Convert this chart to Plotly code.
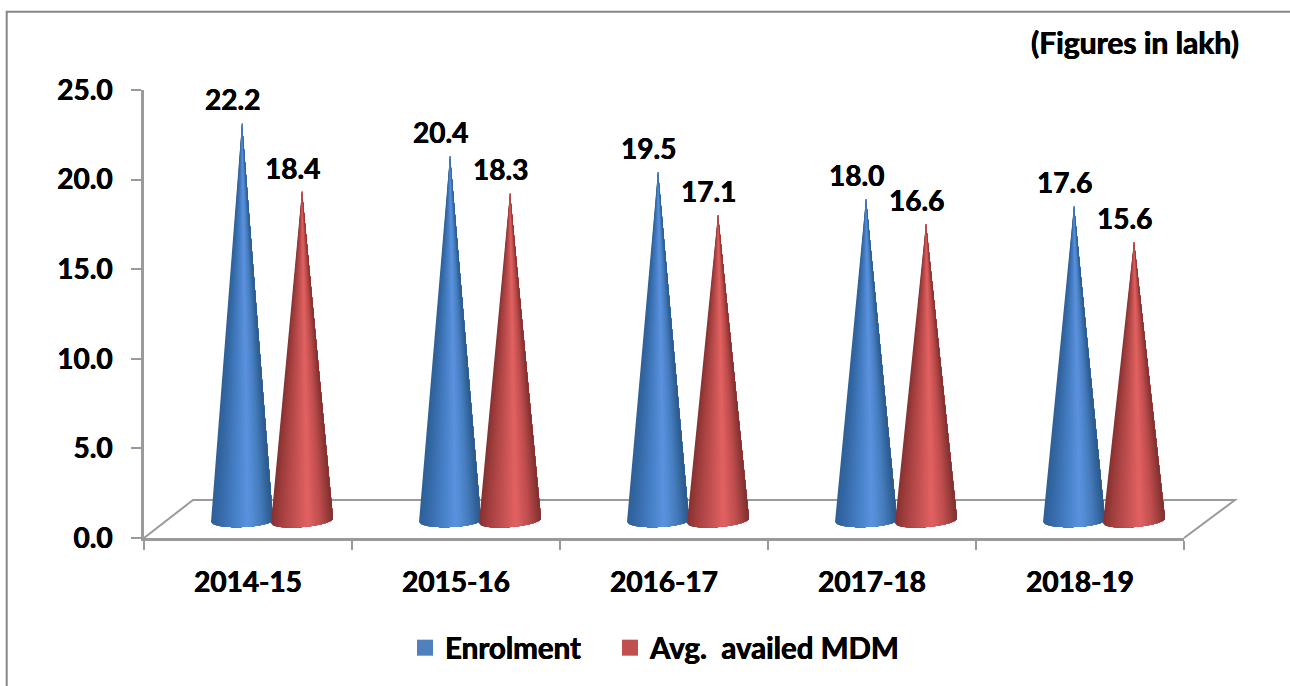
import numpy as np
import plotly.graph_objects as go

categories = ["2014-15", "2015-16", "2016-17", "2017-18", "2018-19"]
enrolment = [22.2, 20.4, 19.5, 18.0, 17.6]
avg_mdm = [18.4, 18.3, 17.1, 16.6, 15.6]
series_names = ["Enrolment", "Avg.\u00a0 availed MDM"]
y_ticks = [0, 5, 10, 15, 20, 25]

W, H = 1290, 686
L, R, T, B = 144, 1184, 90, 538
PX_X = R - L
PX_Y = B - T
FONT = "Lato"
GREY = "#9a9a9a"
HEAVY = "0.35px 0 0 #000, -0.35px 0 0 #000"

px_per_cat = PX_X / len(categories)
px_per_val = PX_Y / 25.0
FLOOR = 17.2 / px_per_val          # base of the cones sits above the front edge
HALF_W = 31 / px_per_cat
RY = 6.3 / px_per_val


def bold(size):
    return dict(family=FONT, size=size, color="black", weight="bold", shadow=HEAVY)


def lerp_stops(stops, t):
    xs = [s[0] for s in stops]
    cols = np.array([s[1] for s in stops], float)
    return [float(np.interp(t, xs, cols[:, i])) for i in range(3)]


blue_stops = [(0, (46, 96, 150)), (.12, (52, 104, 165)), (.35, (68, 125, 195)), (.6, (92, 146, 222)),
              (.8, (70, 125, 190)), (.93, (50, 100, 155)), (1, (44, 88, 135))]
red_stops = [(0, (132, 50, 50)), (.12, (158, 60, 60)), (.35, (192, 78, 78)), (.6, (226, 98, 98)),
             (.8, (190, 76, 76)), (.93, (150, 58, 58)), (1, (125, 46, 46))]

N = 28
edges = np.linspace(-1, 1, N + 1)


def bands(values, offset, stops, tilt):
    # each band covers everything from its left edge to the right rim, so no seams show
    out = []
    for k in range(N):
        xs, ys = [], []
        for i, v in enumerate(values):
            cx = i + 0.5 + offset
            seg = np.linspace(edges[k], 1, 40)
            xs += [cx] + list(cx + HALF_W * seg) + [cx, None]
            ys += [FLOOR + v] + list(FLOOR - RY * np.sqrt(1 - seg ** 2) + tilt * seg) + [FLOOR + v, None]
        r, g, b = lerp_stops(stops, (k + .5) / N)
        col = f"rgb({r:.0f},{g:.0f},{b:.0f})"
        out.append(go.Scatter(x=xs, y=ys, mode="none", fill="toself", fillcolor=col,
                              hoverinfo="skip", showlegend=False))
    return out


fig = go.Figure()
for tr in bands(enrolment, -6 / px_per_cat, blue_stops, 1.2 / px_per_val):
    fig.add_trace(tr)
for tr in bands(avg_mdm, 54 / px_per_cat, red_stops, 2.5 / px_per_val):
    fig.add_trace(tr)

for name, col, lg in zip(series_names, ["#4f81bd", "#c0504d"], ["legend", "legend2"]):
    fig.add_trace(go.Scatter(x=[None], y=[None], mode="markers", name=name, legend=lg, showlegend=True,
                             marker=dict(symbol="square", size=20, color=col)))

annotations = [dict(xref="paper", yref="paper", x=(1241 - L) / PX_X, y=(B - 42) / PX_Y, text="(Figures in lakh)",
                    showarrow=False, xanchor="right", yanchor="middle", font=bold(30))]
for vals, off in ((enrolment, -6), (avg_mdm, 54)):
    for i, v in enumerate(vals):
        annotations.append(dict(x=i + 0.5 + off / px_per_cat, y=FLOOR + v, text=f"{v:.1f}", showarrow=False,
                                xshift=-10, yshift=23.5, xanchor="center", yanchor="middle", font=bold(28)))

px2xp = lambda p: (p - L) / PX_X
px2yp = lambda p: (B - p) / PX_Y
shapes = [
    dict(type="path", xref="paper", yref="paper", layer="below",
         path=f"M {px2xp(144)} {px2yp(538)} L {px2xp(193)} {px2yp(500)} L {px2xp(1235)} {px2yp(500)} L {px2xp(1184)} {px2yp(538)}",
         line=dict(color=GREY, width=2)),
    dict(type="path", xref="paper", yref="paper", layer="below",
         path=f"M {px2xp(6.7)} {px2yp(690)} L {px2xp(6.7)} {px2yp(11.7)} L {px2xp(1295)} {px2yp(11.7)}",
         line=dict(color="#868686", width=2)),
]

legend_common = dict(orientation="h", xref="paper", yref="paper", y=px2yp(648),
                     xanchor="left", yanchor="middle", bgcolor="rgba(0,0,0,0)", font=bold(29.5))

fig.update_layout(
    width=W, height=H, autosize=False, paper_bgcolor="white", plot_bgcolor="white",
    margin=dict(l=L, r=W - R, t=T, b=H - B, pad=0),
    font=dict(family=FONT, color="black"),
    showlegend=True,
    legend=dict(x=px2xp(405), **legend_common),
    legend2=dict(x=px2xp(610), **legend_common),
    annotations=annotations, shapes=shapes,
    xaxis=dict(range=[0, len(categories)], showgrid=False, zeroline=False, showline=True,
               linecolor=GREY, linewidth=2.5,
               tickmode="array", tickvals=[i + 0.5 for i in range(len(categories))], ticktext=categories,
               ticks="", ticklabelstandoff=18, tickfont=bold(28),
               minor=dict(tickmode="array", tickvals=list(range(len(categories) + 1)), ticks="outside",
                          ticklen=9, tickwidth=2, tickcolor=GREY, showgrid=False)),
    yaxis=dict(range=[0, 25], showgrid=False, zeroline=False, showline=True,
               linecolor=GREY, linewidth=2.5, tickmode="array", tickvals=y_ticks,
               tickformat=".1f", ticks="outside", ticklen=10, tickwidth=2, tickcolor=GREY,
               ticklabelstandoff=13, tickfont=bold(28)),
)
fig.write_html("out.html", config=dict(displayModeBar=False),
               post_script="document.body.style.margin='0';document.body.style.overflow='hidden';")
